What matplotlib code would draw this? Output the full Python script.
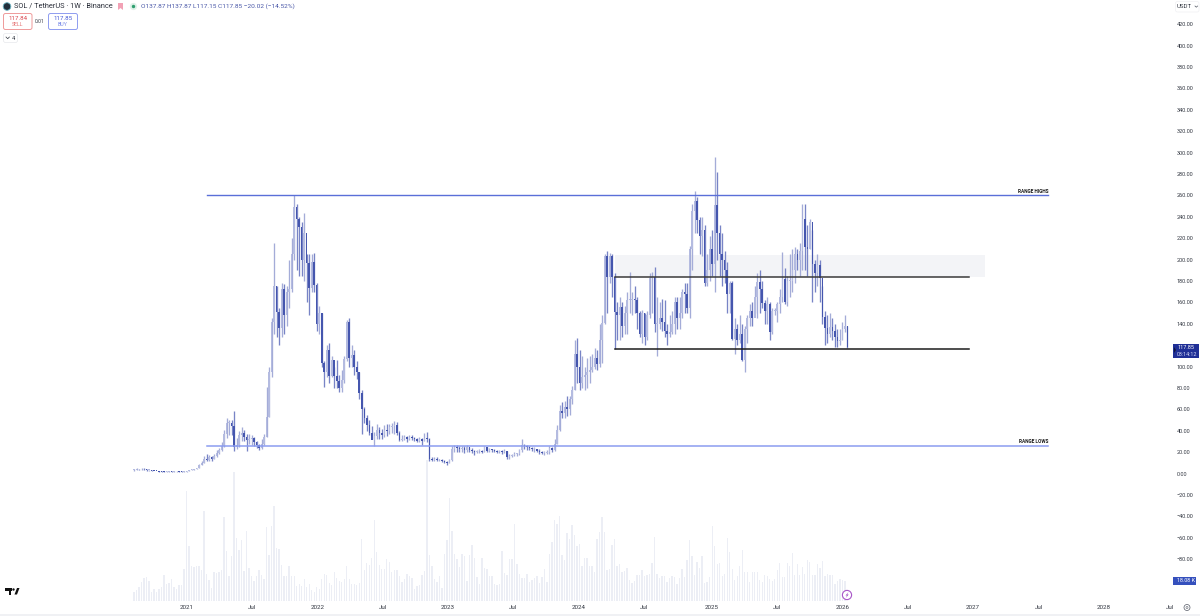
import numpy as np
import matplotlib
matplotlib.use('Agg')
import matplotlib.pyplot as plt
from matplotlib.patches import Circle, FancyBboxPatch, Polygon, Rectangle

plt.rcParams['font.family'] = ['Roboto', 'DejaVu Sans']

# weekly SOL/USDT, split by stretch (aug 2020 -> jan 2026)
close_a = [3.5,4,3.8,4.5,3.8,3,3,2.7,2.3,2.2,1.8,1.7,1.6,1.6,1.7,1.6,2,2,1.6,1.5,1.5]
high_a = [4,4.8,4.5,5,4.8,3.9,3.5,3.2,2.8,2.5,2.3,2,1.9,1.9,2,1.9,2.3,2.3,2.1,1.9,1.9]
low_a = [2.8,3.2,3.3,3.5,3.4,2.8,2.7,2.4,2,1.9,1.6,1.5,1.4,1.4,1.4,1.4,1.5,1.7,1.5,1.3,1.3]
vol_a = [9,11,14,19,23,24,20,9,12,9,12,14,26,17,18,22,14,12,16,16,32]

close_b = [2.2,3,3.5,4,5,8,10,14,13,15,14,16,19,22,26,37,47,47,44,25,27,36,38,34,31,32,33,29,27,24,28,34,53,95,142,175,151,136,172,148,170,172,205,249,238,230,200,225,197,173,198]
high_b = [2.5,3.3,4,4.5,5.6,9,12,16.5,18,17,16,18,22,24,29,41,52,50,50,58,33,40,43,41,37,37,36,34,30,28,32,37,81,100,145,215,175,155,178,177,175,200,220,260,252,240,235,243,205,205,205]
low_b = [1.5,2.1,2.9,3.3,3.8,5,7.5,9.5,12,12,12,13.5,15,18,21,25,33,36,36,21,23,25,30,30,21,28,27,26,24,22,23,27,34,53,90,130,128,120,128,130,138,155,170,200,190,185,185,180,160,148,170]
vol_b = [110,55,35,34,35,35,31,90,27,21,13,29,28,29,31,84,50,25,45,129,63,51,61,30,70,33,25,20,25,31,26,22,74,46,75,95,53,52,36,25,25,35,25,25,15,17,15,22,14,17,11,9]

close_c = [176,140,150,103,95,115,91,106,91,86,80,87,107,142,108,111,100,95,75,60,52,45,38,31,35,41,38,36,41,40,43,44,45,38,31,32,34,32,34,33,32,30,32,30,33,32,14,13,14,13,13,12]
high_c = [206,178,157,150,105,120,122,110,100,106,92,97,110,143,145,120,115,105,95,78,62,55,50,44,39,46,43,42,45,46,46,47,49,48,40,36,36,35,36,36,34,33,34,33,38,39,33,15,15,15,14,14]
low_c = [170,133,130,100,81,90,85,90,80,80,76,76,85,105,100,100,92,88,70,37,47,40,36,32,26,32,32,32,34,35,37,38,37,36,30,30,31,29,31,31,30,29,29,27,30,29,12,12,12,12,12,11]
vol_c = [14,12,22,27,26,18,16,29,23,20,19,22,35,22,17,17,16,18,62,31,38,36,43,81,49,36,32,32,42,39,29,31,31,25,19,22,27,25,23,12,15,16,26,30,141,46,35,22,19,25,13,47]

close_d = [11,10,13,23,25,24,23,24,22,25,22,21,20,21,21,20,25,21,23,22,21,20,21,20,21,15,16,17,18,18,22,27,26,25,24,23,23,21,20,19,19,20,24,22,28,41,58,57,62,60,70,78]
high_d = [13,12,14,26,27,27,26,26,26,27,25,24,22,22,23,22,26,25,24,23,23,22,22,22,23,21,18,18,20,19,23,32,28,27,26,25,25,23,23,21,21,22,26,25,32,45,64,67,68,72,72,82]
low_d = [10,8,9.5,12,20,20,20,20,19,20,20,19,17,19,19,19,20,20,20,20,20,19,19,18,19,14,14,15,16,16,17,20,23,22,22,21,20,20,18,18,17,18,18,20,21,28,40,52,52,54,55,65]
vol_d = [61,103,70,47,42,34,47,45,20,46,56,43,24,17,43,33,32,25,25,17,16,17,50,28,26,42,42,77,37,27,23,23,27,19,21,23,25,18,24,32,19,47,59,81,77,85,46,41,68,62,76,66]

close_e = [112,100,85,90,92,95,97,100,108,102,125,141,203,184,203,184,151,148,156,138,150,162,162,163,162,150,130,150,128,148,183,184,140,140,145,142,133,130,132,140,160,145,150,170,168,155,210,245,255,237,222,228]
high_e = [125,127,115,110,100,108,110,112,117,115,140,148,205,208,206,205,187,160,165,160,157,170,188,170,175,165,152,153,150,152,187,188,193,165,160,163,162,140,148,152,165,165,165,172,178,178,213,252,264,258,240,240]
low_e = [78,85,78,80,78,80,85,95,98,97,100,103,140,150,178,165,116,125,125,128,130,130,150,148,150,135,128,122,120,125,145,150,132,110,135,133,128,120,128,130,130,135,135,145,150,150,145,190,225,225,205,203]
vol_e = [55,57,35,43,43,35,35,29,62,69,84,69,31,32,56,62,35,37,29,30,33,21,18,20,26,26,31,25,26,27,38,64,27,23,25,25,19,23,25,24,17,23,32,24,41,61,45,26,39,33,45,18]

close_f = [178,190,210,196,251,225,205,200,190,168,178,126,135,125,130,106,135,145,152,145,165,179,172,159,152,158,132,152,152,158,165,182,160,180,180,190,205,200,208,238,212,210,235,196,187,195,183,146,136,130,137,133,128,124,125,135,137.87,117.85]
high_f = [232,205,222,228,296,282,232,225,208,198,180,180,145,140,148,140,138,148,158,160,175,187,190,180,162,165,160,155,155,160,172,207,192,185,205,210,212,210,215,252,252,232,238,228,200,205,200,175,152,148,150,145,140,135,135,142,148,137.87]
low_f = [175,175,180,185,170,200,185,175,178,150,150,125,112,120,122,105,95,122,138,138,150,145,150,155,140,140,125,130,148,142,150,160,158,157,165,170,178,190,185,190,190,185,210,160,170,175,160,140,120,122,128,125,118,118,120,125,132,117.15]
vol_f = [19,24,75,55,37,38,25,27,63,49,32,21,25,35,51,29,29,19,29,29,29,21,19,26,25,22,20,22,31,38,24,24,38,35,48,26,37,26,34,27,41,39,26,26,37,33,40,25,27,26,26,17,20,22,21,20]

# 120.00 sits under the last price tag in the original, so it is left out
price_ticks = [v for v in range(-80, 421, 20) if v != 120]
time_labels = ['2021', 'Jul', '2022', 'Jul', '2023', 'Jul', '2024', 'Jul', '2025', 'Jul', '2026', 'Jul', '2027', 'Jul', '2028', 'Jul']
time_weeks = [21.2, 47.1, 73.3, 99.5, 125.4, 151.4, 177.6, 203.8, 230.9, 256.9, 283.3, 309.2, 335.2, 361.6, 387.5, 413.9]

range_high = 260
range_low = 25.7
mid_line = 184
low_line = 116.8
zone_top = 204

close = np.array(close_a + close_b + close_c + close_d + close_e + close_f, dtype=float)
high = np.array(high_a + high_b + high_c + high_d + high_e + high_f, dtype=float)
low = np.array(low_a + low_b + low_c + low_d + low_e + low_f, dtype=float)
vol = np.array(vol_a + vol_b + vol_c + vol_d + vol_e + vol_f, dtype=float)
assert len(close) == len(high) == len(low), (len(close), len(high), len(low))
openp = np.r_[close[0], close[:-1]]
x = np.arange(len(close))
xv = np.arange(len(vol))

W, H = 1200, 616
fig = plt.figure(figsize=(12, 6.16), dpi=100, facecolor='white')

# pixel helpers for the axes limits
x0, dx = 134.0, 2.503
ax_right = 1172
ax_bottom = 601
y0, dy = 473.5, 1.07

ax = fig.add_axes([0, 1 - ax_bottom / H, ax_right / W, ax_bottom / H])

# volume pane shares the time axis, its own scale is just bar height
axv = ax.twinx()
axv.set_ylim(0, ax_bottom)
axv.set_yticks([])
axv.patch.set_alpha(0)
for s in axv.spines.values():
    s.set_visible(False)
axv.bar(xv, vol, width=0.55, color='#eceef5', zorder=1)
axv.set_zorder(0)

ax.set_zorder(1)
ax.set_xlim((0 - x0) / dx, (ax_right - x0) / dx)
ax.set_ylim((y0 - ax_bottom) / dy, y0 / dy)
ax.patch.set_alpha(0)
for s in ax.spines.values():
    s.set_visible(False)

# twinx pushes the ticks left, so set the right side after it
ax.yaxis.tick_right()
ax.set_yticks(price_ticks)
ax.set_yticklabels([f'{v:.2f}'.replace('-', '\u2212') for v in price_ticks], fontsize=4.0, color='#333842')
ax.tick_params(axis='y', length=0, pad=3.5)
ax.set_xticks(time_weeks)
ax.set_xticklabels(time_labels, fontsize=4.5, color='#333842')
ax.tick_params(axis='x', length=0, pad=3)

ax.add_patch(Rectangle((192, mid_line), 148, zone_top - mid_line, color='#f3f4f7', lw=0, zorder=1))

up = close >= openp
wick_col = np.where(up, '#a4acd8', '#7884c6')
body_col = np.where(up, '#b4bbe0', '#4556ae')
ax.vlines(x, low, high, colors=wick_col, lw=0.95, zorder=2)
ax.bar(x, np.maximum(np.abs(close - openp), 0.8), bottom=np.minimum(close, openp), width=0.62,
       color=body_col, lw=0, zorder=3)

ax.plot([29.2, 365.3], [range_high, range_high], color='#5a6fd8', lw=1.0, zorder=4)
ax.plot([29.2, 365.3], [range_low, range_low], color='#8b9cf0', lw=1.1, zorder=4)
ax.plot([192, 333.5], [mid_line, mid_line], color='#3a3a3a', lw=1.1, zorder=4)
ax.plot([192, 333.5], [low_line, low_line], color='#1c1c1c', lw=1.1, zorder=4)
ax.text(365.3, range_high + 1.6, 'RANGE HIGHS', ha='right', va='bottom', fontsize=3.4, fontweight='bold', color='#1c1c1c', zorder=5)
ax.text(365.3, range_low + 1.6, 'RANGE LOWS', ha='right', va='bottom', fontsize=3.4, fontweight='bold', color='#1c1c1c', zorder=5)

# tradingview chrome, drawn in plain pixel coords
ov = fig.add_axes([0, 0, 1, 1], zorder=5)
ov.set_xlim(0, W)
ov.set_ylim(H, 0)
ov.axis('off')
ov.patch.set_alpha(0)


def box(x1, y1, x2, y2, ec, fc='white', lw=0.7):
    ov.add_patch(FancyBboxPatch((x1, y1), x2 - x1, y2 - y1, boxstyle='round,pad=0,rounding_size=2',
                                ec=ec, fc=fc, lw=lw))


ov.add_patch(Circle((7, 6.5), 3.8, fc='#22303c', ec='#6fb7c7', lw=0.6))
ov.text(14, 6.5, 'SOL / TetherUS \u00b7 1W \u00b7 Binance', fontsize=5.35, color='#2a2e39', va='center')
ov.add_patch(Polygon([(118, 3), (123, 3), (123, 10), (120.5, 8), (118, 10)], fc='#f2a1b5', lw=0))
ov.add_patch(Circle((133.5, 6.5), 3.6, fc='#dff1e8', lw=0))
ov.add_patch(Circle((133.5, 6.5), 1.7, fc='#2e9e6f', lw=0))
ov.text(141, 6.5, 'O137.87 H137.87 L117.15 C117.85 \u221220.02 (\u221214.52%)', fontsize=4.65, color='#4a58a8', va='center')

box(3.5, 13.5, 32, 29.5, '#ef9a9a')
ov.text(17.7, 18, '117.84', fontsize=4.4, color='#d9444c', ha='center', va='center')
ov.text(17.7, 25, 'SELL', fontsize=3.8, color='#e57373', ha='center', va='center')
ov.text(40, 21.5, '0.01', fontsize=3.6, color='#333842', ha='center', va='center')
box(48.5, 13.5, 77.5, 29.5, '#8f9cf0')
ov.text(63, 18, '117.85', fontsize=4.4, color='#4257d6', ha='center', va='center')
ov.text(63, 25, 'BUY', fontsize=3.8, color='#7c8ce8', ha='center', va='center')
box(3.5, 33.5, 17.5, 42.5, '#e6e7eb', lw=0.5)
ov.plot([6, 7.7, 9.4], [37, 38.7, 37], color='#333842', lw=0.5)
ov.text(13.5, 38, '4', fontsize=4.2, color='#333842', ha='center', va='center')

box(1175.5, 1.5, 1199, 12, '#f0f0f3', lw=0.5)
ov.text(1177, 6.5, 'USDT', fontsize=4.4, color='#333842', va='center')
ov.plot([1195, 1196.3, 1197.6], [6, 7.2, 6], color='#555a66', lw=0.5)

ov.add_patch(Rectangle((1173, 343.5), 26, 14.5, fc='#1f2f96', lw=0))
ov.add_patch(Polygon([(1174, 347), (1176, 350), (1174, 353)], fc='#10163f', lw=0))
ov.text(1177, 347.6, '117.85', fontsize=4.0, color='white', va='center')
ov.text(1177, 354.2, '03:14:12', fontsize=3.9, color='#d5d9f5', va='center')
ov.add_patch(Rectangle((1173, 577), 23, 8, fc='#3550bd', lw=0))
ov.text(1177, 581, '18.08 K', fontsize=3.9, color='white', va='center')

# logo, bolt marker, settings and bottom rule
ov.add_patch(Rectangle((5, 588), 7, 2.6, fc='#111', lw=0))
ov.add_patch(Rectangle((8.5, 588), 2.6, 6.5, fc='#111', lw=0))
ov.add_patch(Circle((13.5, 589.5), 1.2, fc='#111', lw=0))
ov.add_patch(Polygon([(14.5, 594.5), (17, 588), (19.5, 588), (17, 594.5)], fc='#111', lw=0))
ov.add_patch(Circle((847, 595), 4.6, fc='white', ec='#a855c8', lw=0.8))
ov.add_patch(Polygon([(848.5, 592), (845.5, 595.5), (847, 595.5), (845.8, 598), (848.7, 594.5), (847.2, 594.5)], fc='#a855c8', lw=0))
ov.add_patch(Circle((1187, 607.5), 3, fc='none', ec='#555a66', lw=0.5))
ov.add_patch(Circle((1187, 607.5), 1, fc='none', ec='#555a66', lw=0.4))
ov.plot([0, W], [614.5, 614.5], color='#eeeff2', lw=1.2)

plt.savefig('out.png', dpi=100)
